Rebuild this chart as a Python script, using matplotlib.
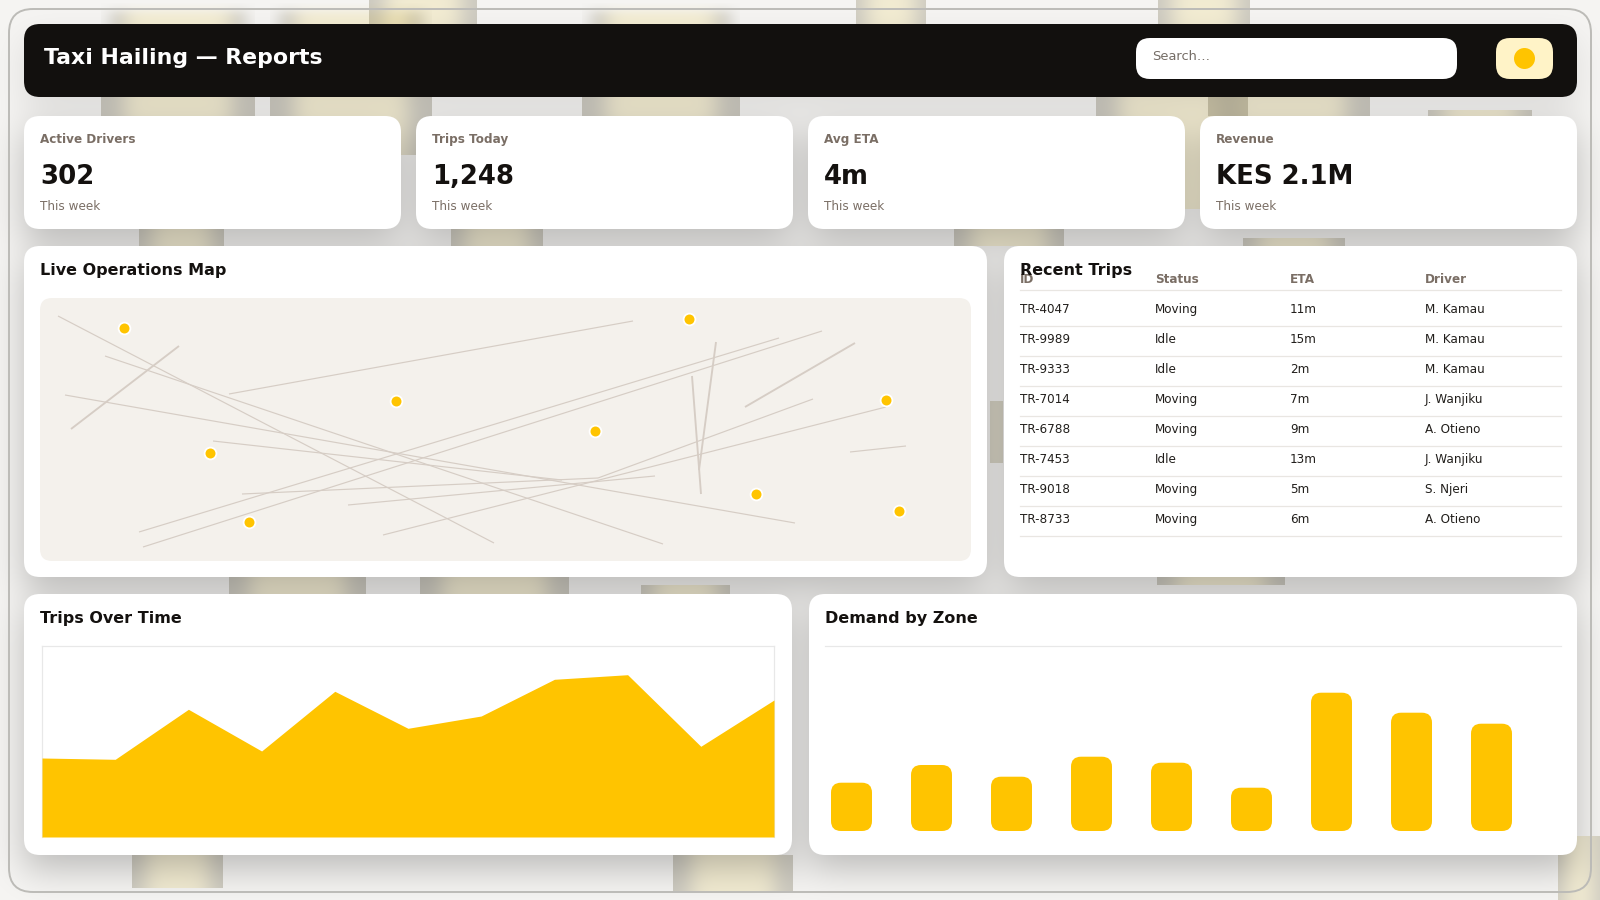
import math
import numpy as np
import matplotlib
matplotlib.use('Agg')
import matplotlib.pyplot as plt
from matplotlib.patches import FancyBboxPatch, Circle

W, H = 1600, 900
YELLOW = '#ffc400'
INK = '#14110f'
MUTED = '#7a6e65'

# data
kpi_labels = ['Active Drivers', 'Trips Today', 'Avg ETA', 'Revenue']
kpi_values = ['302', '1,248', '4m', 'KES 2.1M']
kpi_notes = ['This week', 'This week', 'This week', 'This week']

table_cols = ['ID', 'Status', 'ETA', 'Driver']
trip_ids = ['TR-4047', 'TR-9989', 'TR-9333', 'TR-7014', 'TR-6788', 'TR-7453', 'TR-9018', 'TR-8733']
trip_status = ['Moving', 'Idle', 'Idle', 'Moving', 'Moving', 'Idle', 'Moving', 'Moving']
trip_eta = ['11m', '15m', '2m', '7m', '9m', '13m', '5m', '6m']
trip_driver = ['M. Kamau', 'M. Kamau', 'M. Kamau', 'J. Wanjiku', 'A. Otieno', 'J. Wanjiku', 'S. Njeri', 'A. Otieno']

trips_over_time = [79, 77.7, 127.7, 86, 145.7, 108.7, 121, 157.7, 162.3, 90.7, 137]
zone_demand = [48.3, 66, 54.3, 74.3, 68.3, 43.3, 138.3, 118.3, 107.3]

# map roads as x1, y1, x2, y2 and vehicles, in map pixels
road_x1 = [18, 65, 139, 25, 189, 173, 99, 103, 202, 308, 343, 773, 676, 652, 705, 810]
road_y1 = [18, 58, 48, 97, 96, 143, 234, 249, 196, 207, 237, 101, 44, 78, 109, 154]
road_x2 = [454, 623, 31, 755, 593, 522, 739, 782, 558, 615, 846, 558, 659, 661, 815, 866]
road_y2 = [245, 246, 131, 225, 23, 182, 40, 33, 180, 178, 109, 180, 172, 196, 45, 148]
road_w = [1, 1, 1.6, 1, 1, 1, 1, 1, 1, 1, 1, 1, 1.6, 1.6, 1.6, 1]
car_x = [84, 356, 170, 209, 649, 555, 846, 716, 859]
car_y = [30, 103, 155, 224, 21, 133, 102, 196, 213]

# cards as x0, y0, x1, y1
header_box = (24, 24, 1577, 97)
kpi_boxes = [(24, 116, 401, 229), (416, 116, 793, 229), (808, 116, 1185, 229), (1200, 116, 1577, 229)]
map_box = (24, 246, 987, 577)
table_box = (1004, 246, 1577, 577)
trend_box = (24, 594, 792, 855)
zone_box = (809, 594, 1577, 855)

# blurred photos behind the cards: x0, y0, x1, y1
blobs = [(101, 3, 255, 116), (270, 3, 432, 155), (369, 0, 477, 24), (582, 3, 740, 116),
         (856, 0, 926, 24), (1158, 0, 1250, 24), (1096, 97, 1248, 209), (1208, 97, 1370, 116),
         (1428, 110, 1532, 116), (139, 225, 224, 246), (451, 225, 543, 246), (954, 225, 1064, 246),
         (1243, 238, 1345, 246), (229, 577, 366, 594), (420, 577, 569, 594), (641, 585, 730, 594),
         (1157, 577, 1285, 585), (990, 401, 1003, 463), (132, 855, 223, 888), (673, 855, 793, 892),
         (1558, 836, 1600, 900)]


def soft_edge(n, a, b, sigma):
    erf = np.vectorize(math.erf)
    t = np.arange(n) + 0.5
    s = sigma * math.sqrt(2)
    return 0.5 * (erf((t - a) / s) - erf((t - b) / s))


def make_background():
    img = np.ones((H, W, 3)) * np.array([246, 245, 243]) / 255
    gray = np.array([212, 210, 202]) / 255
    cream = np.array([254, 248, 222]) / 255
    for x0, y0, x1, y1 in blobs:
        inset = (x1 - x0) * 0.15
        inner = np.outer(soft_edge(H, y0 - 30, y1 + 30, 20), soft_edge(W, x0 + inset, x1 - inset, 10))
        color = gray + (cream - gray) * inner[..., None].clip(0, 1)
        mask = np.zeros((H, W))
        mask[y0:y1, x0:x1] = 1
        # the top row of photos fades in instead of starting on a hard edge
        if 0 < y0 < 20:
            mask = mask * soft_edge(H, y0 + 8, H + 200, 5)[:, None]
            mask = mask * np.clip(soft_edge(W, x0 + 10, x1 - 10, 8)[None, :]
                                  + (np.arange(H)[:, None] > 90), 0, 1)
        mask = mask[..., None]
        img = img * (1 - mask) + img * color * mask
    shadows = [(header_box, 0.1)] + [(b, 0.24) for b in kpi_boxes + [map_box, table_box, trend_box, zone_box]]
    for (x0, y0, x1, y1), strength in shadows:
        shade = np.outer(soft_edge(H, y0 + 14, y1 + 14, 18), soft_edge(W, x0, x1, 18))
        img = img * (1 - strength * shade[..., None])
    return img


def card(ax, box, color='white', radius=16, z=2):
    x0, y0, x1, y1 = box
    ax.add_patch(FancyBboxPatch((x0, y0), x1 - x0, y1 - y0, boxstyle='round,pad=0,rounding_size=%d' % radius,
                                fc=color, ec='none', zorder=z))


def label(ax, x, y, s, px, color=INK, weight='normal'):
    ax.text(x, y, s, fontsize=px * 0.72, color=color, fontweight=weight, va='center', ha='left', zorder=6)


def panel_axes(fig, x0, y0, x1, y1):
    a = fig.add_axes([x0 / W, 1 - y1 / H, (x1 - x0) / W, (y1 - y0) / H])
    a.set_xticks([])
    a.set_yticks([])
    a.patch.set_alpha(0)
    for s in a.spines.values():
        s.set_visible(False)
    return a


fig = plt.figure(figsize=(16, 9), dpi=100)
ax = fig.add_axes([0, 0, 1, 1])
ax.set_xlim(0, W)
ax.set_ylim(H, 0)
ax.axis('off')
ax.imshow(make_background(), extent=(0, W, H, 0), aspect='auto', interpolation='nearest', zorder=0)

# outer frame
ax.add_patch(FancyBboxPatch((9, 9), 1582, 883, boxstyle='round,pad=0,rounding_size=24',
                            fc='none', ec='#bcbbb7', lw=1.4, zorder=1))

# header
card(ax, header_box, '#12100e', 16)
label(ax, 44, 58, 'Taxi Hailing — Reports', 22, 'white', 'bold')
card(ax, (1136, 38, 1457, 79), 'white', 14, 3)
label(ax, 1152, 56.5, 'Search…', 13, '#756d66')
card(ax, (1496, 38, 1553, 79), '#fff3c7', 14, 3)
ax.add_patch(Circle((1524.5, 58.5), 10.5, fc=YELLOW, ec='none', zorder=4))

# kpi cards
for box, name, value, note in zip(kpi_boxes, kpi_labels, kpi_values, kpi_notes):
    card(ax, box)
    label(ax, box[0] + 16, 139.5, name, 12, MUTED, 'bold')
    label(ax, box[0] + 16, 177, value, 26, INK, 'bold')
    label(ax, box[0] + 16, 206, note, 12, MUTED)

# map
card(ax, map_box)
label(ax, 40, 270, 'Live Operations Map', 16, INK, 'bold')
card(ax, (40, 298, 971, 561), '#f4f1ec', 12, 3)
ax_map = panel_axes(fig, 40, 298, 971, 561)
ax_map.set_xlim(0, 931)
ax_map.set_ylim(263, 0)
for x1, y1, x2, y2, w in zip(road_x1, road_y1, road_x2, road_y2, road_w):
    ax_map.plot([x1, x2], [y1, y2], color='#d6cdc5', lw=w * 0.85, solid_capstyle='butt')
ax_map.scatter(car_x, car_y, s=72, color=YELLOW, edgecolors='white', linewidths=1.3, zorder=3)

# trips table
card(ax, table_box)
col_x = [1020, 1155, 1290, 1425]
for x, name in zip(col_x, table_cols):
    label(ax, x, 279.5, name, 12, MUTED, 'bold')
ax.plot([1020, 1561], [290, 290], color='#e9e6e2', lw=0.9, zorder=5)
label(ax, 1020, 270, 'Recent Trips', 16, INK, 'bold')
for i in range(len(trip_ids)):
    y = 309.5 + 30 * i
    row = [trip_ids[i], trip_status[i], trip_eta[i], trip_driver[i]]
    for x, s in zip(col_x, row):
        label(ax, x, y, s, 12, '#221f1c')
    ax.plot([1020, 1561], [y + 16.5, y + 16.5], color='#e9e6e2', lw=0.9, zorder=5)

# trips over time
card(ax, trend_box)
label(ax, 40, 618, 'Trips Over Time', 16, INK, 'bold')
ax_trend = panel_axes(fig, 42, 646, 774, 837)
ax_trend.set_xlim(0, len(trips_over_time) - 1)
ax_trend.set_ylim(0, 191)
ax_trend.fill_between(range(len(trips_over_time)), trips_over_time, 0, color=YELLOW, lw=0, zorder=3)
for side in ['top', 'left', 'right']:
    ax_trend.spines[side].set_visible(True)
    ax_trend.spines[side].set_color('#e8e8e8')
    ax_trend.spines[side].set_linewidth(0.9)

# demand by zone
card(ax, zone_box)
label(ax, 825, 618, 'Demand by Zone', 16, INK, 'bold')
ax_zone = panel_axes(fig, 825, 646, 1561, 831)
ax_zone.set_xlim(0, 736)
ax_zone.set_ylim(0, 185)
ax_zone.spines['top'].set_visible(True)
ax_zone.spines['top'].set_color('#e8e8e8')
ax_zone.spines['top'].set_linewidth(0.9)
for i, h in enumerate(zone_demand):
    ax_zone.add_patch(FancyBboxPatch((6 + 80 * i, 0), 41, h, boxstyle='round,pad=0,rounding_size=10',
                                     fc=YELLOW, ec='none'))

fig.savefig('out.png', dpi=100)
plt.close(fig)
